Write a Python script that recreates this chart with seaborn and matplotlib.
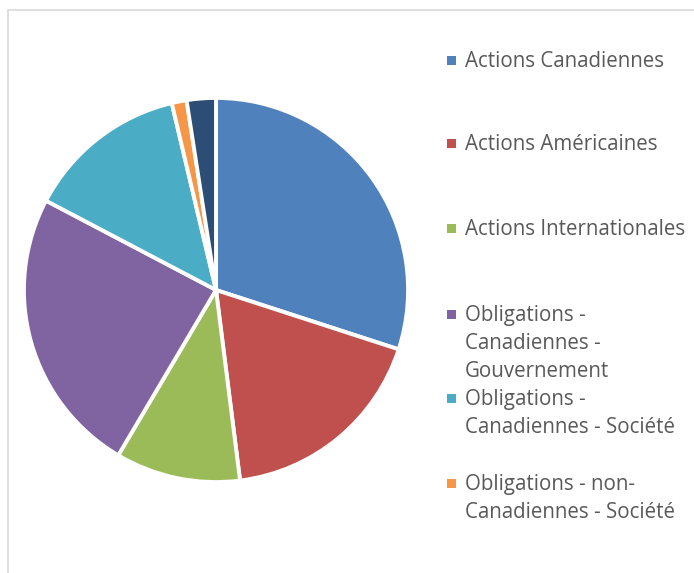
import seaborn as sns
import matplotlib.pyplot as plt
from matplotlib.patches import Rectangle

# Allocation des actifs (parts estimées, %)
labels = ['Actions Canadiennes',
          'Actions Américaines',
          'Actions Internationales',
          'Obligations -\nCanadiennes -\nGouvernement',
          'Obligations -\nCanadiennes - Société',
          'Obligations - non-\nCanadiennes - Société']
values = [30.0, 18.0, 10.5, 24.2, 13.6, 1.25, 2.45]
colors = ['#4F81BD', '#C0504D', '#9BBB59', '#8064A2', '#4BACC6', '#F79646', '#2C4D75']
legend_y = [60, 143, 228, 314, 398, 483]   # pixel rows of the legend entries

sns.set_theme(style='white')
plt.rcParams['font.family'] = ['Open Sans', 'DejaVu Sans']

W, H = 694, 573
fig = plt.figure(figsize=(W/100, H/100), dpi=100)
fig.patch.set_facecolor('white')

# chart area frame
fig.patches.append(Rectangle((8/W, -0.1), 1.2, 1 - 10/H + 0.1, transform=fig.transFigure,
                             fill=False, edgecolor='#D9D9D9', lw=1.2))

ax = fig.add_axes([22/W, (H-484)/H, 388/W, 388/H])
ax.pie(values, colors=sns.color_palette(colors), startangle=90, counterclock=False,
       radius=1, wedgeprops=dict(edgecolor='white', linewidth=2.8))
ax.set_xlim(-1.01, 1.01)
ax.set_ylim(-1.01, 1.01)
ax.set_aspect('equal')
ax.axis('off')

line_h = 28
for lab, col, y in zip(labels, colors, legend_y):
    fig.patches.append(Rectangle((447/W, (H-y-4.5)/H), 9/W, 9/H, transform=fig.transFigure,
                                 facecolor=col, edgecolor='none'))
    for i, line in enumerate(lab.split('\n')):
        fig.text(465/W, (H-y-1.5-i*line_h)/H, line, ha='left', va='center',
                 fontsize=14.8, color='#595959')

fig.savefig('out.png', dpi=100)
